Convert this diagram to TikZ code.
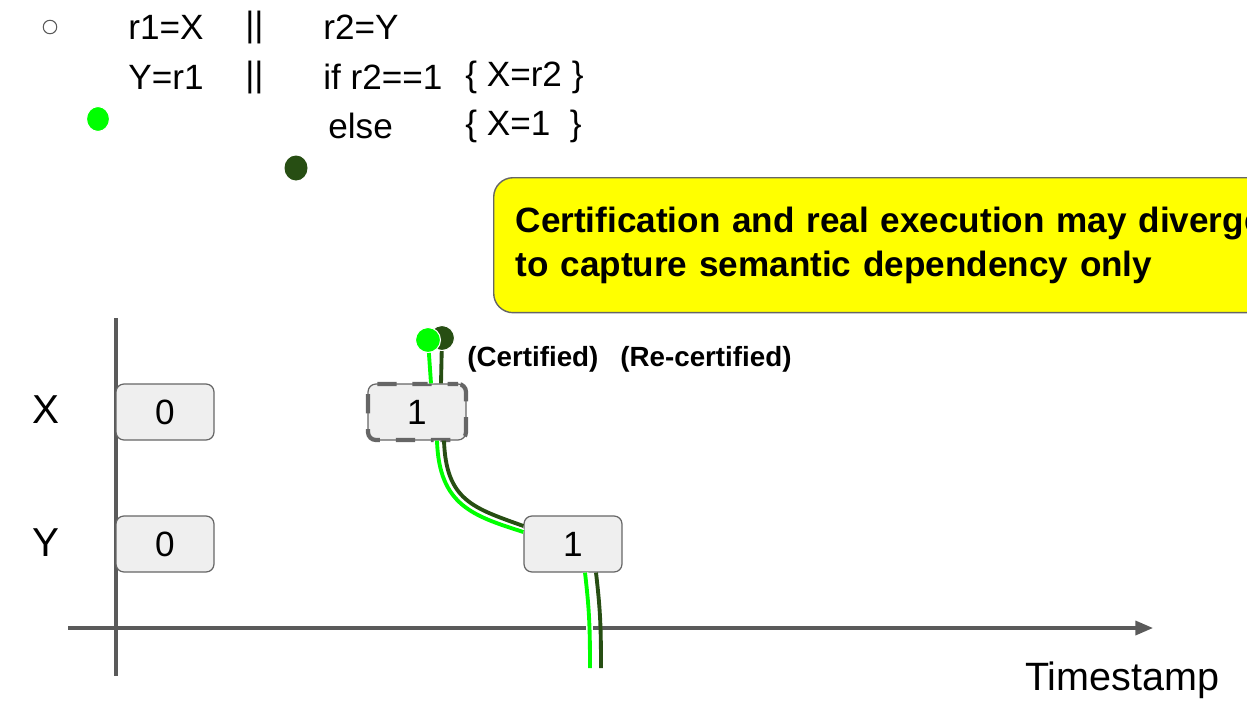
\documentclass[tikz,border=0pt]{standalone}
\usepackage{fontspec}
\setmainfont{Liberation Sans}
\usepackage{tikz}
\usetikzlibrary{arrows.meta, positioning, calc, shapes.geometric}
\definecolor{cert-green}{RGB}{0, 255, 0}
\definecolor{recert-green}{RGB}{39, 78, 19}
\definecolor{axis-gray}{RGB}{90, 90, 90}
\definecolor{box-gray}{RGB}{239, 239, 239}
\definecolor{edge-gray}{RGB}{102, 102, 102}
\definecolor{note-yellow}{RGB}{255, 255, 0}

\begin{document}
\begin{tikzpicture}[x=0.02cm, y=-0.02cm,
  code/.style={anchor=west, inner sep=0pt, font=\fontsize{20}{24}\selectfont},
  axlbl/.style={inner sep=0pt, font=\fontsize{23}{27}\selectfont},
  valbox/.style={rectangle, draw=edge-gray, fill=box-gray, line width=0.7pt,
                 rounded corners=4.5pt, minimum width=1.96cm, minimum height=1.12cm,
                 inner sep=0pt, font=\fontsize{20}{24}\selectfont},
  selbox/.style={valbox, postaction={draw=edge-gray, line width=2.4pt,
                 dash pattern=on 11pt off 9pt, dash phase=5pt}},
  note/.style={rectangle, draw=edge-gray, fill=note-yellow, line width=0.8pt,
               rounded corners=11pt, anchor=north west, minimum height=2.7cm,
               text width=24cm, inner xsep=0.44cm, align=left,
               font=\fontsize{20}{25}\selectfont\bfseries},
  tag/.style={inner sep=0pt, font=\fontsize{15.8}{18}\selectfont\bfseries},
  dotc/.style={ellipse, fill=cert-green, draw=white, line width=0.6pt,
               minimum width=0.5cm, minimum height=0.5cm, inner sep=0pt},
  dotr/.style={dotc, fill=recert-green},
  certline/.style={draw=cert-green, line width=2.2pt,
                   preaction={draw=white, line width=3.8pt}},
  recertline/.style={draw=recert-green, line width=2.2pt},
  axis/.style={draw=axis-gray, line width=1.8pt}
]
  \clip (0,0) rectangle (1247,717);
  \useasboundingbox (0,0) rectangle (1247,717);

  % program text
  \node[circle, draw=axis-gray, line width=0.6pt, minimum size=0.27cm, inner sep=0pt] (bul) at (50,27) {};
  \node[code] (l1a) at (128,27)  {r1=X};
  \node[code] (l1b) at (245,27)  {||};
  \node[code] (l1c) at (323,27)  {r2=Y};
  \node[code] (l2a) at (128,77)  {Y=r1};
  \node[code] (l2b) at (245,77)  {||};
  \node[code] (l2c) at (323,77)  {if r2==1};
  \node[code] (l2d) at (465,77)  {\{ X=r2 \}};
  \node[code] (l3c) at (328,126) {else};
  \node[code] (l3d) at (465,126) {\{ X=1 \ \}};
  \node[dotc, minimum width=0.46cm] (keyc) at (98,119)  {};
  \node[dotr, minimum width=0.46cm, draw=none] (keyr) at (296,168) {};

  \node[note] (note) at (493,177) {Certification and real execution may diverge\\to capture semantic dependency only};

  % axes
  \coordinate (vtop) at (116,318);
  \coordinate (vbot) at (116,676);
  \coordinate (hleft) at (68,628);
  \coordinate (hright) at (1153,628);
  \draw[axis] (vtop) -- (vbot);
  \draw[axis, -{Triangle[length=10pt, width=8pt]}] (hleft) -- (hright);
  \node[axlbl] (xl) at (46,410) {X};
  \node[axlbl] (yl) at (46,543) {Y};
  \node[axlbl, font=\fontsize{22.5}{26}\selectfont] (ts) at (1122,680) {Timestamp};

  % versions
  \node[valbox] (x0) at (165,412) {0};
  \node[valbox] (y0) at (165,544) {0};
  \node[selbox] (x1) at (417,412) {1};
  \node[valbox] (y1) at (573,544) {1};

  % re-certified path
  \node[dotr] (rdot) at (442,338) {};
  \coordinate (rend) at (601,668);
  \draw[recertline] (rdot) -- ($(x1.north)+(24,0)$);
  \draw[recertline] ($(x1.south)+(27,0)$) .. controls +(2,60) and +(-50,-18) .. ($(y1.west)+(0,-18)$);
  \draw[recertline] ($(y1.south)+(23,0)$) .. controls +(4,35) and +(0,-45) .. (rend);

  % certified path
  \node[dotc] (cdot) at (428,340) {};
  \coordinate (cend) at (590,668);
  \draw[certline] (cdot) -- ($(x1.north)+(14,0)$);
  \draw[certline] ($(x1.south)+(20,0)$) .. controls +(2,65) and +(-50,-16) .. ($(y1.west)+(0,-12)$);
  \draw[certline] ($(y1.south)+(12,0)$) .. controls +(4,35) and +(0,-45) .. (cend);

  \node[tag, anchor=west] (ctag) at (467,359) {(Certified)};
  \node[tag, anchor=west] (rtag) at (620,359) {(Re-certified)};
\end{tikzpicture}
\end{document}
